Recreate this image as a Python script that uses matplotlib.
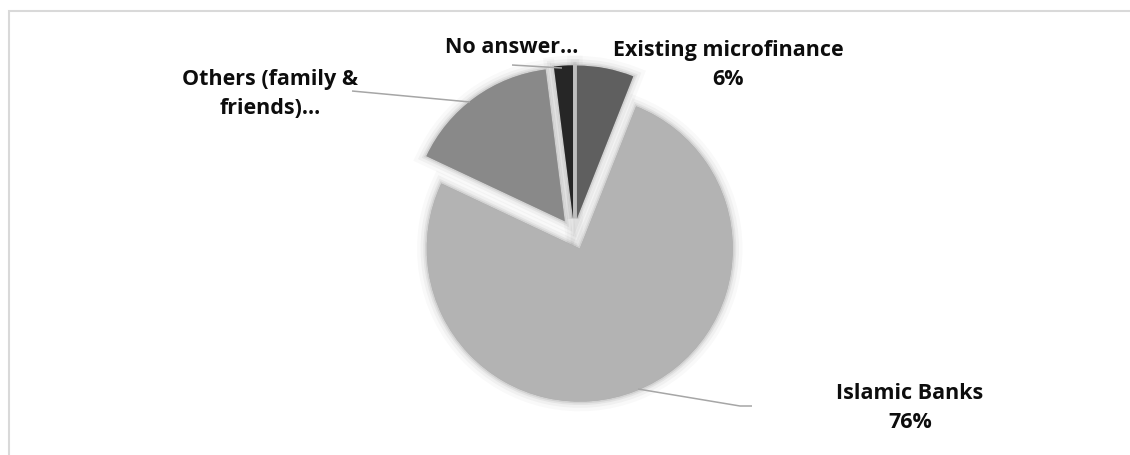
import matplotlib
matplotlib.use("Agg")
import matplotlib.pyplot as plt
from matplotlib.patches import Rectangle

# Survey shares: preferred source of finance
categories = ["Existing microfinance", "Islamic Banks", "Others (family & friends)", "No answer"]
shares = [6, 76, 16, 2]
label_texts = ["Existing microfinance\n{}%", "Islamic Banks\n{}%", "Others (family &\nfriends)\u2026", "No answer\u2026"]
colors = ["#5f5f5f", "#b3b3b3", "#898989", "#262626"]

W, H = 1130, 456
fig = plt.figure(figsize=(W / 100, H / 100), dpi=100)
ax = fig.add_axes([0, 0, 1, 1])

cx, cy, radius = 574, H - 235, 153
explode_px = 15.7

# soft glow underneath the slices
for lw, a in [(14, 0.025), (9, 0.035), (5, 0.05), (2.5, 0.07)]:
    ax.pie(shares, startangle=90, counterclock=False, radius=radius, center=(cx, cy),
           explode=[explode_px] * len(shares),
           wedgeprops=dict(facecolor="#000000", edgecolor="#000000", linewidth=lw,
                           alpha=a, zorder=1))

wedges, _ = ax.pie(shares, startangle=90, counterclock=False, radius=radius, center=(cx, cy),
                   colors=colors, explode=[explode_px] * len(shares),
                   wedgeprops=dict(linewidth=0, zorder=2))

font = dict(family=["Open Sans", "DejaVu Sans"], fontweight="bold", fontsize=15.5,
            color="#0d0d0d", ha="center", va="center", linespacing=1.55, zorder=5)

# label anchor points (pixel coords from top-left)
label_pos = [(728, 65), (910, 408), (270, 94), (512, 47)]
for txt, val, (lx, ly) in zip(label_texts, shares, label_pos):
    ax.text(lx, H - ly, txt.format(val), **font)

# leader lines
leaders = [
    [(638, 390), (740, 407), (752, 407)],
    [(352, 92), (470, 103)],
    [(512, 66), (562, 69)],
]
for pts in leaders:
    xs = [p[0] for p in pts]
    ys = [H - p[1] for p in pts]
    ax.plot(xs, ys, color="#a6a6a6", lw=1.1, zorder=4, solid_capstyle="butt")

# chart area border (runs off the right and bottom edges)
ax.add_patch(Rectangle((8.5, -20), W + 40, H - 12 + 20, fill=False,
                       edgecolor="#d9d9d9", lw=1.5, zorder=0))

ax.set_xlim(0, W)
ax.set_ylim(0, H)
ax.set_aspect("auto")
ax.axis("off")

fig.savefig("out.png", dpi=100, facecolor="white")
